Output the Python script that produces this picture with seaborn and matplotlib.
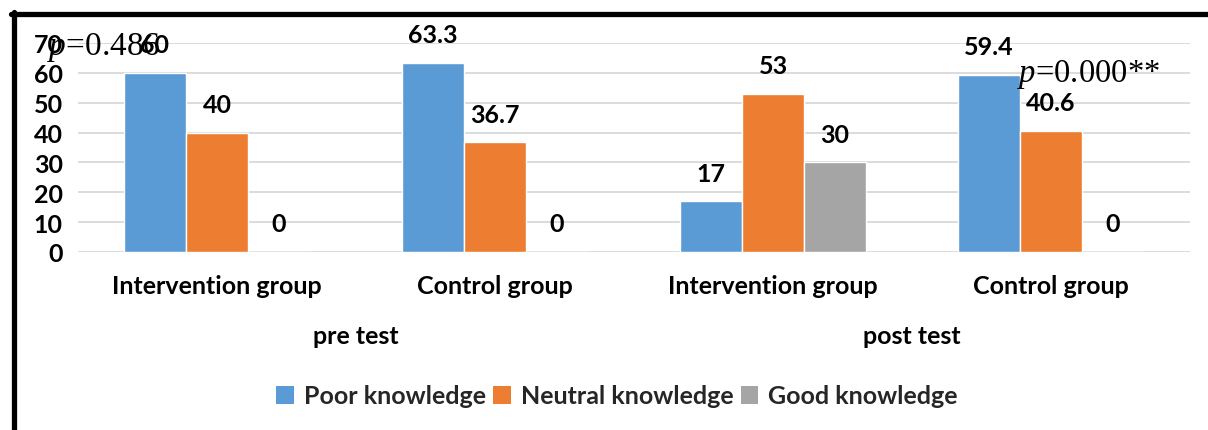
import matplotlib
matplotlib.use("Agg")
import matplotlib.pyplot as plt
from matplotlib.lines import Line2D
from matplotlib.patches import Patch
import seaborn as sns
import pandas as pd

groups = ["Intervention group", "Control group", "Intervention group", "Control group"]
phases = ["pre test", "post test"]
series = ["Poor knowledge", "Neutral knowledge", "Good knowledge"]
poor = [60, 63.3, 17, 59.4]
neutral = [40, 36.7, 53, 40.6]
good = [0, 0, 30, 0]
p_values = ["$p$=0.486", "$p$=0.000**"]
yticks = [0, 10, 20, 30, 40, 50, 60, 70]

colors = ["#5B9BD5", "#ED7D31", "#A5A5A5"]

sns.set_theme(style="white")
plt.rcParams["font.family"] = ["Lato", "DejaVu Sans"]
plt.rcParams["mathtext.fontset"] = "custom"
plt.rcParams["mathtext.it"] = "Liberation Serif:italic"
plt.rcParams["mathtext.rm"] = "Liberation Serif"

FS = 18
WT = "bold"

slots = [f"{i}" for i in range(len(groups))]
rows = []
for name, vals in zip(series, [poor, neutral, good]):
    for s, v in zip(slots, vals):
        rows.append({"slot": s, "series": name, "value": v})
df = pd.DataFrame(rows)

W, H = 1208, 431
fig = plt.figure(figsize=(W / 100, H / 100), dpi=100)
ax = fig.add_axes([78 / W, 1 - 253 / H, (1190 - 78) / W, (253 - 44) / H])

sns.barplot(data=df, x="slot", y="value", hue="series", order=slots,
            hue_order=series, palette=colors, width=0.67, gap=0,
            saturation=1, ax=ax, legend=False, errorbar=None)

ax.set_ylim(0, 70)
ax.set_xlim(-0.5, len(groups) - 0.5)
ax.set_yticks(yticks)
ax.yaxis.grid(True, color="#D9D9D9", linewidth=1.3)
ax.set_axisbelow(True)
for sp in ax.spines.values():
    sp.set_visible(False)
ax.set_xlabel("")
ax.set_ylabel("")
ax.set_xticks(range(len(groups)))
ax.set_xticklabels(groups)
ax.tick_params(axis="x", length=0, pad=16, labelsize=FS)
ax.tick_params(axis="y", length=0, pad=11, labelsize=FS)
for lab in ax.get_xticklabels() + ax.get_yticklabels():
    lab.set_fontweight(WT)
    lab.set_color("black")

for cont in ax.containers:
    texts = ax.bar_label(cont, labels=[f"{v:g}" for v in cont.datavalues],
                         padding=12, fontsize=FS, color="black")
    for t in texts:
        t.set_fontweight(WT)
        t.set_zorder(5)

# second level category labels
for i, ph in enumerate(phases):
    xc = 2 * i + 0.5
    ax.text(xc, (253 - 336) / (253 - 44) * 70, ph, ha="center", va="center",
            fontsize=FS, fontweight=WT, color="black", clip_on=False)

# p-value annotations
fig.text(47 / W, 1 - 55 / H, p_values[0], fontsize=24, color="black",
         ha="left", va="baseline", family="Liberation Serif", zorder=1)
fig.text(1017 / W, 1 - 82 / H, p_values[1], fontsize=23.5, color="black",
         ha="left", va="baseline", family="Liberation Serif")

# legend
handles = [Patch(facecolor=c, edgecolor="none") for c in colors]
fig.legend(handles, series, loc="center", bbox_to_anchor=(617 / W, 1 - 397 / H),
           ncol=3, frameon=False, handlelength=0.7, handleheight=0.7,
           handletextpad=0.4, columnspacing=0.3,
           prop={"weight": WT, "size": FS})

# outer frame (top and left)
fig.add_artist(Line2D([11 / W, 1.0], [1 - 15 / H, 1 - 15 / H], color="black",
                      linewidth=3.8, transform=fig.transFigure))
fig.add_artist(Line2D([13.5 / W, 13.5 / W], [1 - 13 / H, 0], color="black",
                      linewidth=3.8, transform=fig.transFigure))

fig.savefig("out.png", dpi=100)
